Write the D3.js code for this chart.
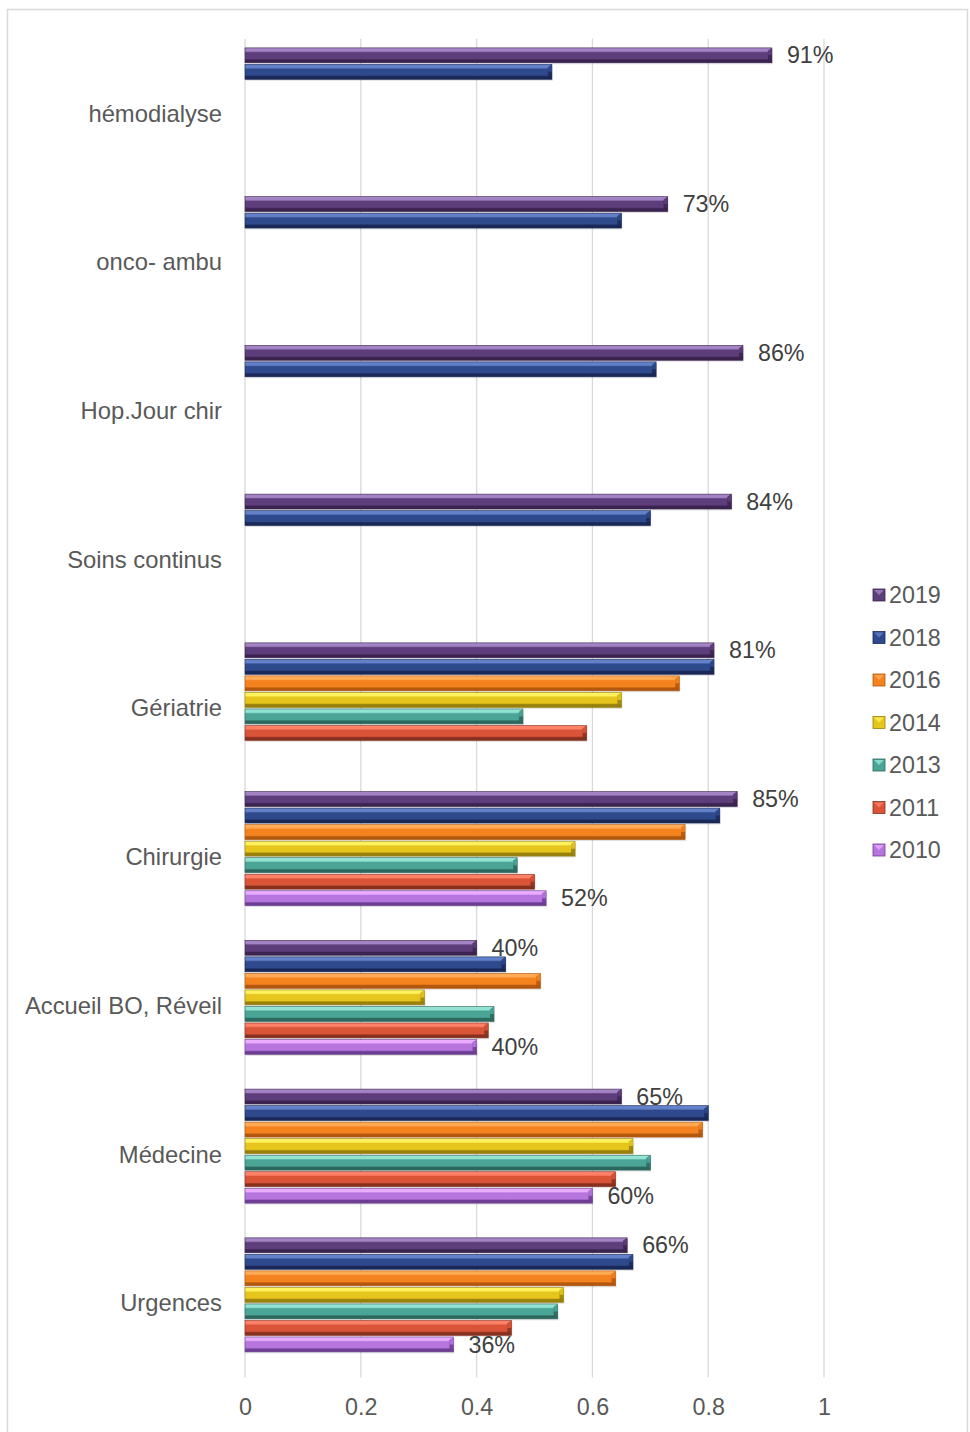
<!DOCTYPE html>
<html><head><meta charset="utf-8">
<script src="https://cdn.jsdelivr.net/npm/d3@7"></script>
<style>
html,body{margin:0;padding:0;background:#fff;}
svg{display:block;font-family:"Liberation Sans",Arial,sans-serif;}
</style></head>
<body><svg id="chart" width="970" height="1432"></svg>
<script>
// ---- data ----
const categories = ["hémodialyse","onco- ambu","Hop.Jour chir","Soins continus","Gériatrie","Chirurgie","Accueil BO, Réveil","Médecine","Urgences"];
const seriesNames = ["2019","2018","2016","2014","2013","2011","2010"];
const v2019 = [0.91,0.73,0.86,0.84,0.81,0.85,0.40,0.65,0.66];
const v2018 = [0.53,0.65,0.71,0.70,0.81,0.82,0.45,0.80,0.67];
const v2016 = [null,null,null,null,0.75,0.76,0.51,0.79,0.64];
const v2014 = [null,null,null,null,0.65,0.57,0.31,0.67,0.55];
const v2013 = [null,null,null,null,0.48,0.47,0.43,0.70,0.54];
const v2011 = [null,null,null,null,0.59,0.50,0.42,0.64,0.46];
const v2010 = [null,null,null,null,null,0.52,0.40,0.60,0.36];
const xTicks = [0,0.2,0.4,0.6,0.8,1];
const labelledSeries = ["2019","2010"];
const colors = {
  "2019":{hi:"#a483c4",base:"#5e3d7b",dark:"#3b2350"},
  "2018":{hi:"#6381c9",base:"#2f4a8c",dark:"#1a2858"},
  "2016":{hi:"#ffab55",base:"#f4821f",dark:"#b2570e"},
  "2014":{hi:"#fff25e",base:"#e6c51c",dark:"#98800c"},
  "2013":{hi:"#93e3d3",base:"#4aa596",dark:"#2b675c"},
  "2011":{hi:"#ff8268",base:"#da5438",dark:"#88301f"},
  "2010":{hi:"#e9acff",base:"#b676de",dark:"#6e3e94"}
};
const valuesBySeries = {"2019":v2019,"2018":v2018,"2016":v2016,"2014":v2014,"2013":v2013,"2011":v2011,"2010":v2010};

// ---- layout ----
const svg = d3.select("#chart");
const plotLeft = 245, plotRight = 824, plotTop = 38.8, plotBottom = 1377.5;

svg.append("rect").attr("x",7.5).attr("y",9.5).attr("width",960).attr("height",1440)
  .attr("fill","#fff").attr("stroke","#d9d9d9").attr("stroke-width",1.5);

const x = d3.scaleLinear().domain([0,1]).range([plotLeft,plotRight]);
const y0 = d3.scaleBand().domain(categories).range([plotTop,plotBottom]).padding(0);
const y1 = d3.scaleBand().domain(d3.range(seriesNames.length+1)).range([0,y0.bandwidth()])
  .paddingInner(0).paddingOuter(0.5);
const barH = y1.bandwidth()*0.9;

// gradients
const defs = svg.append("defs");
seriesNames.forEach(s=>{
  const c = colors[s];
  const g = defs.append("linearGradient").attr("id","g"+s).attr("x1",0).attr("y1",0).attr("x2",0).attr("y2",1);
  [[0,c.hi],[0.22,c.hi],[0.32,c.base],[0.72,c.base],[0.82,c.dark],[1,c.dark]].forEach(([o,col])=>
    g.append("stop").attr("offset",o).attr("stop-color",col));
});

// gridlines
svg.append("g").selectAll("line").data(xTicks).join("line")
  .attr("x1",d=>x(d)).attr("x2",d=>x(d)).attr("y1",plotTop).attr("y2",plotBottom)
  .attr("stroke","#d9d9d9").attr("stroke-width",1.3);

// bars
const barData = [];
categories.forEach((cat,ci)=>{
  seriesNames.forEach((s,si)=>{
    const v = valuesBySeries[s][ci];
    if(v!=null) barData.push({cat,s,si,v});
  });
});
const bars = svg.append("g").selectAll("g").data(barData).join("g")
  .attr("transform",d=>`translate(0,${y0(d.cat)+y1(d.si)+(y1.bandwidth()-barH)/2})`);
// shadow
bars.append("rect").attr("x",x(0)+1).attr("y",1.5).attr("width",d=>x(d.v)-x(0)).attr("height",barH)
  .attr("fill","#000").attr("opacity",0.12);
bars.append("rect").attr("x",x(0)).attr("y",0).attr("width",d=>x(d.v)-x(0)).attr("height",barH)
  .attr("fill",d=>`url(#g${d.s})`).attr("stroke",d=>colors[d.s].dark).attr("stroke-width",0.6);
// right-end bevel
bars.append("path").attr("d",d=>{
  const xe=x(d.v), b=4;
  return `M${xe},0 L${xe},${barH} L${xe-b},${barH-3} L${xe-b},3 Z`;
}).attr("fill",d=>colors[d.s].dark).attr("opacity",0.85);
bars.append("path").attr("d",d=>{
  const xe=x(d.v), b=4;
  return `M${xe},0 L${xe-b},3 L${xe-b},${barH/2} L${xe},${barH/2} Z`;
}).attr("fill",d=>colors[d.s].base).attr("opacity",0.9);

// data labels
svg.append("g").selectAll("text").data(barData.filter(d=>labelledSeries.includes(d.s))).join("text")
  .attr("x",d=>x(d.v)+15)
  .attr("y",d=>y0(d.cat)+y1(d.si)+y1.bandwidth()/2)
  .attr("dy","0.35em").attr("font-size",23.3).attr("fill","#404040")
  .text(d=>d3.format(".0%")(d.v));

// category labels
svg.append("g").selectAll("text").data(categories).join("text")
  .attr("x",222).attr("y",d=>y0(d)+y0.bandwidth()/2)
  .attr("dy","0.35em").attr("text-anchor","end").attr("font-size",23.8).attr("fill","#595959")
  .text(d=>d);

// x axis
const xAxis = d3.axisBottom(x).tickValues(xTicks).tickFormat(d=>d3.format("")(d)).tickSize(0).tickPadding(0);
const ax = svg.append("g").attr("transform",`translate(0,${plotBottom})`).call(xAxis);
ax.select(".domain").remove();
ax.selectAll("text").attr("font-size",23.3).attr("fill","#595959")
  .attr("font-family","Liberation Sans, Arial, sans-serif").attr("y",29).attr("dy","0.35em");

// legend
const leg = svg.append("g").selectAll("g").data(seriesNames).join("g")
  .attr("transform",(d,i)=>`translate(873,${595+i*42.5})`);
leg.append("rect").attr("x",0).attr("y",-6).attr("width",12).attr("height",12)
  .attr("fill",d=>colors[d].base).attr("stroke",d=>colors[d].dark).attr("stroke-width",0.8);
leg.append("path").attr("d","M1,-5 L6,0 L11,-5 Z").attr("fill",d=>colors[d].hi).attr("opacity",0.8);
leg.append("text").attr("x",16).attr("y",0).attr("dy","0.35em").attr("font-size",23.3).attr("fill","#595959")
  .text(d=>d);
</script></body></html>
